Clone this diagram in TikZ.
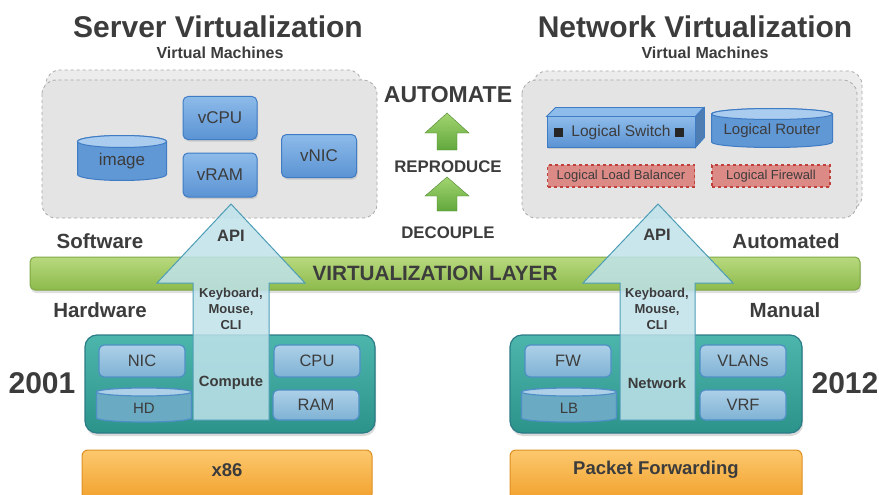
\documentclass[tikz,border=0pt]{standalone}
\usepackage{fontspec}
\setmainfont{Liberation Sans}
\usetikzlibrary{shadows}

\definecolor{ink}{HTML}{3C3C3C}
\definecolor{vmfill}{HTML}{E4E4E4}
\definecolor{vmedge}{HTML}{A8A8A8}
\definecolor{blutop}{HTML}{8DBBEA}
\definecolor{blubot}{HTML}{5B93D3}
\definecolor{bluedge}{HTML}{3F7CC4}
\definecolor{hwtop}{HTML}{ADD0E8}
\definecolor{hwbot}{HTML}{7FB2D4}
\definecolor{hwedge}{HTML}{4E8FC6}
\definecolor{tealtop}{HTML}{4DB6AC}
\definecolor{tealbot}{HTML}{2C938B}
\definecolor{tealedge}{HTML}{2A7C86}
\definecolor{lyrtop}{HTML}{B8D97E}
\definecolor{lyrbot}{HTML}{8DBA4C}
\definecolor{lyredge}{HTML}{7DA844}
\definecolor{orgtop}{HTML}{FCC86E}
\definecolor{orgbot}{HTML}{F2A12C}
\definecolor{orgedge}{HTML}{DD9022}
\definecolor{redfill}{HTML}{DC8A86}
\definecolor{rededge}{HTML}{C0403C}
\definecolor{apifill}{HTML}{BFE2EA}
\definecolor{apiedge}{HTML}{4E9DB6}
\definecolor{grntop}{HTML}{A2D470}
\definecolor{grnbot}{HTML}{62A83C}

\begin{document}
\begin{tikzpicture}[x=1pt,y=-1pt,
  every node/.style={text=ink,inner sep=0pt},
  title/.style={font=\fontsize{30}{32}\selectfont\bfseries},
  subtitle/.style={font=\fontsize{16}{18}\selectfont\bfseries},
  side/.style={font=\fontsize{20.5}{22}\selectfont\bfseries},
  year/.style={font=\fontsize{30}{32}\selectfont\bfseries},
  step label/.style={font=\fontsize{16.8}{18}\selectfont\bfseries},
  base label/.style={font=\fontsize{18.5}{20}\selectfont\bfseries},
  vm/.style={draw=vmedge,dashed,line width=0.8pt,fill=vmfill,rounded corners=14pt},
  vbox/.style={draw=bluedge,line width=1pt,rounded corners=5pt,top color=blutop,bottom color=blubot,
    drop shadow={opacity=0.25,shadow xshift=1pt,shadow yshift=-2pt},
    font=\fontsize{17}{19}\selectfont,minimum width=#1},
  vdrum/.style={draw=bluedge,line width=1pt,fill=blubot!90!blutop},
  vdrumtop/.style={draw=bluedge,line width=1pt,fill=blutop!75!white},
  lgc/.style={draw=rededge,dashed,line width=1.2pt,fill=redfill,minimum height=22pt,
    font=\fontsize{13}{15}\selectfont},
  hw/.style={draw=hwedge,line width=1.2pt,rounded corners=5pt,top color=hwtop,bottom color=hwbot,
    font=\fontsize{16.5}{18}\selectfont,minimum width=86pt},
  hdrum/.style={draw=hwedge,line width=1.2pt,fill=hwbot!75!tealbot},
  hdrumtop/.style={draw=hwedge,line width=1.2pt,fill=hwtop},
  chassis/.style={draw=tealedge,line width=1.2pt,rounded corners=12pt,top color=tealtop,bottom color=tealbot,
    drop shadow={opacity=0.3,shadow xshift=1pt,shadow yshift=-3pt}},
  base/.style={draw=orgedge,line width=1pt,rounded corners=6pt,top color=orgtop,bottom color=orgbot},
  api/.style={draw=apiedge,line width=1pt,fill=apifill,fill opacity=0.85},
  grnarrow/.style={top color=grntop,bottom color=grnbot,draw=grnbot!80!black,line width=0.4pt},
  apitext/.style={font=\fontsize{16.5}{18}\selectfont\bfseries},
  inarrow/.style={font=\fontsize{13}{16}\selectfont\bfseries,align=center},
  incore/.style={font=\fontsize{14.8}{16}\selectfont\bfseries}]

\useasboundingbox (0,0) rectangle (879,495);

% headings
\node[title] (srvtitle) at (218,27) {Server Virtualization};
\node[subtitle] (srvvm) at (220,53) {Virtual Machines};
\node[title] (nettitle) at (695,27) {Network Virtualization};
\node[subtitle] (netvm) at (705,53) {Virtual Machines};

% stacked virtual machine frames
\draw[vm,fill=vmfill!70!white] (46,70) rectangle (362,210);
\draw[vm] (42,80) rectangle (377,218);
\draw[vm,fill=vmfill!70!white] (533,71) rectangle (862,210);
\draw[vm] (522,80) rectangle (857,218);

% server VM parts
\node[vbox=74pt,minimum height=43pt] (vcpu) at (220,118) {vCPU};
\node[vbox=74pt,minimum height=44pt] (vram) at (220,175) {vRAM};
\node[vbox=75pt,minimum height=43pt] (vnic) at (319,156) {vNIC};

% drums: name/x/y/width/height/cap/text
\foreach \nm/\cx/\cy/\w/\h/\e/\txt in {image/122/158/89/45/6/image,lrouter/772/128/121/39/5.5/Logical Router} {
  \draw[vdrum] ({\cx-\w/2},{\cy-\h/2+\e}) -- ({\cx-\w/2},{\cy+\h/2-\e})
    arc[start angle=180,end angle=360,x radius={\w/2*1pt},y radius={\e*1pt}]
    -- ({\cx+\w/2},{\cy-\h/2+\e})
    arc[start angle=0,end angle=180,x radius={\w/2*1pt},y radius={\e*1pt}] -- cycle;
  \draw[vdrumtop] (\cx,{\cy-\h/2+\e}) ellipse[x radius={\w/2*1pt},y radius={\e*1pt}];
}
\node[font=\fontsize{17}{19}\selectfont] (imagetxt) at (122,161) {image};
\node[font=\fontsize{15}{17}\selectfont] (lroutertxt) at (772,131) {Logical Router};

% network VM parts
\node[vbox=148pt,minimum height=30pt,rounded corners=0pt,font=\fontsize{15.5}{17}\selectfont] (lswitch) at (621,132) {Logical Switch};
\draw[draw=bluedge,line width=0.8pt,fill=blutop] (lswitch.north west) -- ++(9,-9) -- ++(148,0) -- (lswitch.north east) -- cycle;
\draw[draw=bluedge,line width=0.8pt,fill=blubot!85!black] (lswitch.north east) -- ++(9,-9) -- ++(0,30) -- (lswitch.south east) -- cycle;
\node[fill=black!85,minimum size=9pt] (portl) at ([xshift=12pt]lswitch.west) {};
\node[fill=black!85,minimum size=9pt] (portr) at ([xshift=-16pt]lswitch.east) {};
\node[lgc,minimum width=147pt] (llb) at (621,176) {Logical Load Balancer};
\node[lgc,minimum width=118pt] (lfw) at (771,176) {Logical Firewall};

% middle steps
\draw[grnarrow] (447,113) -- (469,133) -- (457,133) -- (457,150) -- (437,150) -- (437,133) -- (425,133) -- cycle;
\draw[grnarrow] (447,177) -- (469,196) -- (457,196) -- (457,211) -- (437,211) -- (437,196) -- (425,196) -- cycle;
\node[font=\fontsize{23}{25}\selectfont\bfseries] (automate) at (448,95) {AUTOMATE};
\node[step label] (reproduce) at (448,167) {REPRODUCE};
\node[step label] (decouple) at (448,233) {DECOUPLE};

% virtualization layer
\draw[draw=lyredge,line width=1pt,rounded corners=5pt,top color=lyrtop,bottom color=lyrbot,
  drop shadow={opacity=0.25,shadow xshift=1pt,shadow yshift=-3pt}] (30,257) rectangle (860,290);
\node[font=\fontsize{20.7}{22}\selectfont\bfseries] (layer) at (435,273) {VIRTUALIZATION LAYER};

\node[side] (software) at (100,241) {Software};
\node[side] (hardware) at (100,310) {Hardware};
\node[side] (automated) at (786,241) {Automated};
\node[side] (manual) at (785,310) {Manual};

% physical boxes
\draw[chassis] (85,335) rectangle (375,433);
\draw[chassis] (510,335) rectangle (802,433);
\node[hw,minimum height=32pt] (nic) at (142,361) {NIC};
\node[hw,minimum height=32pt] (cpu) at (317,361) {CPU};
\node[hw,minimum height=30pt] (ram) at (316,405) {RAM};
\node[hw,minimum height=32pt] (fw) at (568,361) {FW};
\node[hw,minimum height=32pt] (vlans) at (743,361) {VLANs};
\node[hw,minimum height=30pt] (vrf) at (743,405) {VRF};
\foreach \nm/\cx in {hd/144,lb/569} {
  \draw[hdrum] ({\cx-47.5},392) -- ({\cx-47.5},418)
    arc[start angle=180,end angle=360,x radius=47.5pt,y radius=4pt]
    -- ({\cx+47.5},392)
    arc[start angle=0,end angle=180,x radius=47.5pt,y radius=4pt] -- cycle;
  \draw[hdrumtop] (\cx,392) ellipse[x radius=47.5pt,y radius=4pt];
}
\node[font=\fontsize{15}{17}\selectfont] (hdtxt) at (144,408) {HD};
\node[font=\fontsize{15}{17}\selectfont] (lbtxt) at (569,408) {LB};

\node[year] (y2001) at (42,383) {2001};
\node[year] (y2012) at (845,383) {2012};

% base platforms
\draw[base] (82,450) rectangle (372,500);
\draw[base] (510,450) rectangle (802,500);
\node[base label] (x86) at (227,470) {x86};
\node[base label] (pktfwd) at (656,470) {Packet Forwarding};

% API arrows through the layer
\draw[api] (231,204) -- (305,283) -- (269,283) -- (269,420) -- (193,420) -- (193,283) -- (157,283) -- cycle;
\draw[api] (658,204) -- (733,283) -- (695,283) -- (695,420) -- (620,420) -- (620,283) -- (583,283) -- cycle;
\node[apitext] (apil) at (231,236) {API};
\node[inarrow] (keysl) at (231,309) {Keyboard,\\Mouse,\\CLI};
\node[incore] (compute) at (231,383) {Compute};
\node[apitext] (apir) at (657,235) {API};
\node[inarrow] (keysr) at (657,309) {Keyboard,\\Mouse,\\CLI};
\node[incore] (network) at (657,383) {Network};

\end{tikzpicture}
\end{document}
